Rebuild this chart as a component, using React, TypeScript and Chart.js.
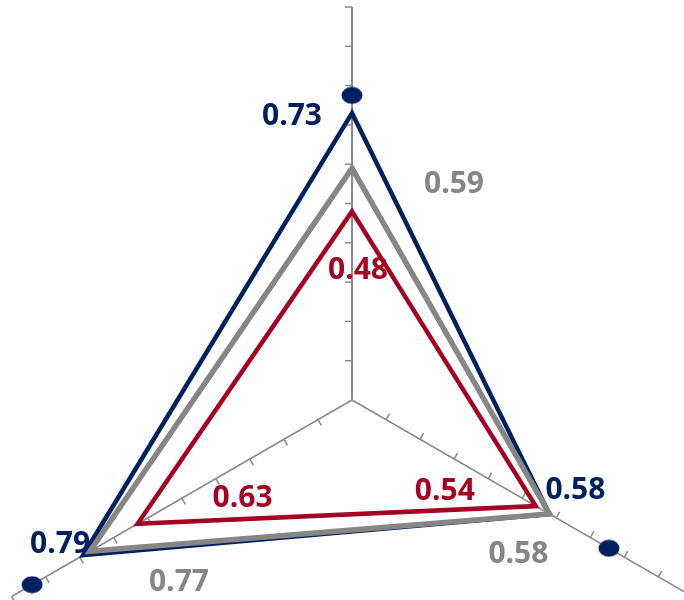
import { useEffect, useRef } from "react";
import { Chart, registerables } from "chart.js";

Chart.register(...registerables);

// ---- data ----
const categories = ["Axis 1", "Axis 2", "Axis 3"];
const navyValues = [0.73, 0.58, 0.79];
const grayValues = [0.59, 0.58, 0.77];
const redValues = [0.48, 0.54, 0.63];
const markerValues = [0.775, 0.755, 0.94];
const scaleMin = 0;
const scaleMax = 1;
const scaleStep = 0.1;

// ---- styles / layout ----
const NAVY = "#002060";
const GRAY = "#868686";
const RED = "#A50021";
const AXIS = "#8a8a8a";
const CENTER_X = 352;
const CENTER_Y = 400;
const RADIUS = 393;
// label offsets from each vertex [dataset][point] -> [dx, dy]
const LABEL_OFFSETS: number[][][] = [
  [[-60, 2], [26, -25], [-23, -12]],
  [[102, 15], [-31, 39], [89, 30]],
  [[6, 58], [-91, -16], [105, -26]],
];
const LABEL_COLORS = [NAVY, GRAY, RED];

const layoutPlugin = {
  id: "radarLayout",
  afterLayout(chart: any) {
    const s = chart.scales.r;
    s.xCenter = CENTER_X;
    s.yCenter = CENTER_Y;
    s.drawingArea = RADIUS;
  },
};

const axisTickPlugin = {
  id: "axisTicks",
  beforeDatasetsDraw(chart: any) {
    const s = chart.scales.r;
    const ctx = chart.ctx;
    ctx.save();
    ctx.strokeStyle = AXIS;
    ctx.lineWidth = 1.5;
    const n = chart.data.labels.length;
    for (let i = 0; i < n; i++) {
      const a = s.getIndexAngle(i) - Math.PI / 2;
      const px = Math.sin(a);
      const py = -Math.cos(a);
      s.ticks.forEach((t: any) => {
        if (t.value <= scaleMin) return;
        const p = s.getPointPositionForValue(i, t.value);
        ctx.beginPath();
        ctx.moveTo(p.x, p.y);
        ctx.lineTo(p.x + px * 7, p.y + py * 7);
        ctx.stroke();
      });
    }
    ctx.restore();
  },
};

const valueLabelPlugin = {
  id: "valueLabels",
  afterDatasetsDraw(chart: any) {
    const ctx = chart.ctx;
    ctx.save();
    ctx.font = 'bold 30px "Open Sans", "Liberation Sans", sans-serif';
    ctx.textAlign = "center";
    ctx.textBaseline = "middle";
    for (let di = 0; di < 3; di++) {
      const meta = chart.getDatasetMeta(di);
      const vals = chart.data.datasets[di].data as number[];
      ctx.fillStyle = LABEL_COLORS[di];
      meta.data.forEach((el: any, j: number) => {
        const [dx, dy] = LABEL_OFFSETS[di][j];
        ctx.fillText(vals[j].toFixed(2), el.x + dx, el.y + dy + 1);
      });
    }
    ctx.restore();
  },
};

export default function App() {
  const ref = useRef<HTMLCanvasElement | null>(null);

  useEffect(() => {
    document.body.style.margin = "0";
    const marker = document.createElement("canvas");
    marker.width = 22;
    marker.height = 18;
    const mctx = marker.getContext("2d")!;
    mctx.fillStyle = NAVY;
    mctx.beginPath();
    mctx.ellipse(11, 9, 10.5, 8.5, 0, 0, Math.PI * 2);
    mctx.fill();

    const chart = new Chart(ref.current!, {
      type: "radar",
      data: {
        labels: categories,
        datasets: [
          {
            label: "Navy",
            data: navyValues,
            borderColor: NAVY,
            borderWidth: 4.5,
            fill: false,
            pointRadius: 0,
            borderJoinStyle: "miter",
            order: 2,
          },
          {
            label: "Gray",
            data: grayValues,
            borderColor: GRAY,
            borderWidth: 5.5,
            fill: false,
            pointRadius: 0,
            borderJoinStyle: "miter",
            order: 1,
          },
          {
            label: "Red",
            data: redValues,
            borderColor: RED,
            borderWidth: 4.5,
            fill: false,
            pointRadius: 0,
            borderJoinStyle: "miter",
            order: 0,
          },
          {
            label: "Markers",
            data: markerValues,
            showLine: false,
            borderWidth: 0,
            fill: false,
            pointStyle: marker as any,
            pointRadius: 10,
            pointBackgroundColor: NAVY,
            pointBorderWidth: 0,
            order: 0,
          } as any,
        ],
      },
      options: {
        animation: false,
        responsive: false,
        events: [],
        layout: { padding: 0 },
        plugins: {
          legend: { display: false },
          tooltip: { enabled: false },
        },
        scales: {
          r: {
            min: scaleMin,
            max: scaleMax,
            ticks: { display: false, stepSize: scaleStep },
            grid: { display: false },
            pointLabels: { display: false },
            angleLines: {
              display: true,
              color: AXIS,
              lineWidth: (c: any) => (c.index === 0 ? 2 : 1.5),
            },
          },
        },
      },
      plugins: [layoutPlugin, axisTickPlugin, valueLabelPlugin],
    });
    return () => chart.destroy();
  }, []);

  return (
    <canvas
      ref={ref}
      width={684}
      height={600}
      style={{ display: "block", width: 684, height: 600 }}
    />
  );
}
